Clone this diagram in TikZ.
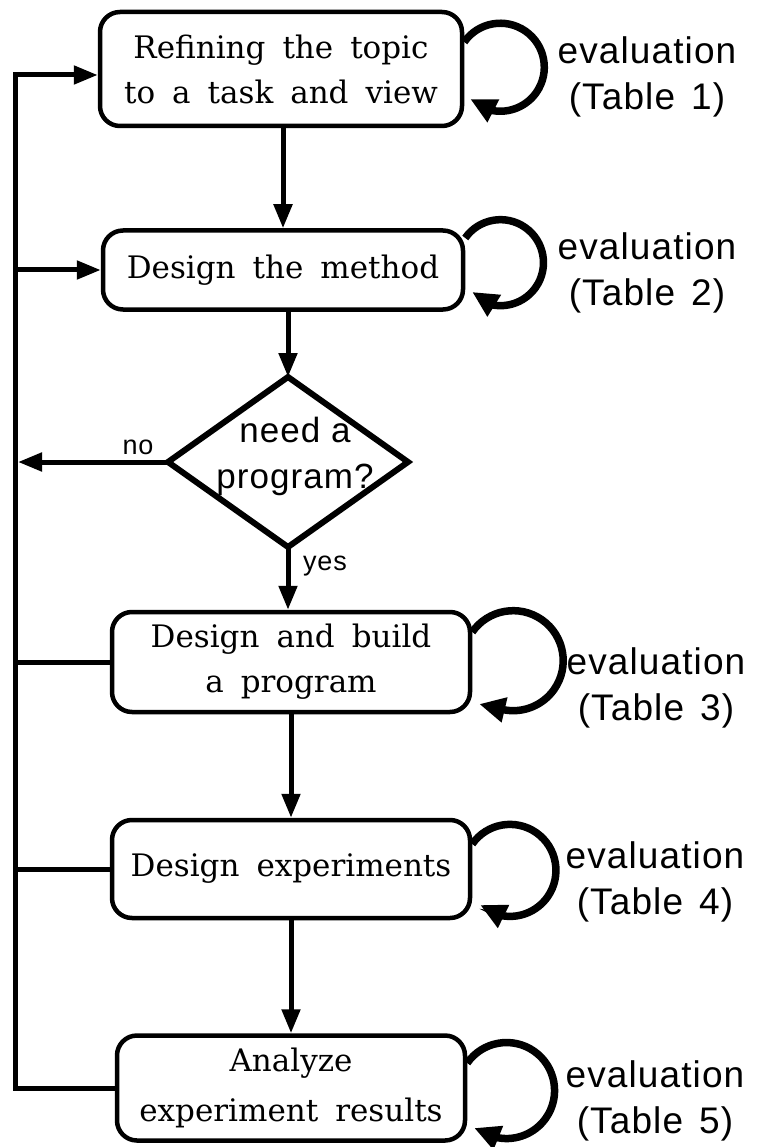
\documentclass[tikz,border=0pt]{standalone}
\usepackage{fontspec}
\setmainfont{DejaVu Serif}
\newfontfamily\sansf{Liberation Sans}[LetterSpace=3.0]
\usetikzlibrary{shapes.geometric,arrows.meta,calc}
\begin{document}
\begin{tikzpicture}[x=1pt,y=-1pt,
  stepbox/.style={draw, line width=4.5pt, rounded corners=20pt, align=center, inner sep=0pt,
    font={\fontsize{31}{45}\selectfont\spaceskip=17pt\relax}},
  conn/.style={line width=5pt},
  tip/.tip={Triangle[length=24pt,width=18pt]},
  looptip/.tip={Triangle[length=26pt,width=24pt]},
  loopline/.style={line width=7.5pt, -{looptip}},
  evaltext/.style={align=center, inner sep=0pt, font={\sansf\fontsize{37}{46}\selectfont\spaceskip=16pt\relax}},
  smalltext/.style={inner sep=0pt, font={\sansf\fontsize{27}{30}\selectfont}},
  decision/.style={draw, diamond, line width=6pt, minimum width=240pt, minimum height=170pt, inner sep=0pt, outer sep=0pt},
  qtext/.style={align=center, inner sep=0pt, font={\sansf\fontsize{35}{46}\selectfont}}
]
\useasboundingbox (0,0) rectangle (760,1147);

% boxes
\node[stepbox, minimum width=362pt, minimum height=114pt] (b1) at (281,69) {Refining the topic\\to a task and view};
\node[stepbox, minimum width=360pt, minimum height=79pt] (b2) at (283,270) {Design the method};
\node[decision] (d) at (288,462) {};
\node[qtext] (dq) at (295,456) {need a\\program?};
\node[stepbox, minimum width=358pt, minimum height=100pt] (b3) at (291,662) {Design and build\\a program};
\node[stepbox, minimum width=358pt, minimum height=98pt] (b4) at (291,869) {Design experiments};
\node[stepbox, minimum width=348pt, minimum height=105pt, font={\fontsize{31}{50}\selectfont\spaceskip=17pt\relax}] (b5) at (291,1088) {Analyze\\experiment results};

% labels
\node[smalltext] (lno) at (138,447) {no};
\node[smalltext] (lyes) at (325,566) {yes};
\node[evaltext] (e1) at (647,77) {evaluation\\(Table 1)};
\node[evaltext] (e2) at (647,273) {evaluation\\(Table 2)};
\node[evaltext] (e3) at (656,688) {evaluation\\(Table 3)};
\node[evaltext] (e4) at (655,882) {evaluation\\(Table 4)};
\node[evaltext] (e5) at (655,1101) {evaluation\\(Table 5)};

% bus
\coordinate (busx) at (15,0);
\coordinate (bustop) at (15,75);
\draw[conn, -{tip}] (b5.west) -- (b5.west -| busx) -- (bustop) -- (bustop -| b1.west);
\draw[conn, -{tip}] (b2.west -| busx) -- (b2.west);
\draw[conn] (b3.west -| busx) -- (b3.west);
\draw[conn] (b4.west -| busx) -- (b4.west);
\draw[conn, -{tip}, shorten >=3pt] (d.west) -- (d.west -| busx);

% main flow
\draw[conn, -{tip}] (b2.north |- b1.south) -- (b2.north);
\draw[conn, -{tip}] (d.north |- b2.south) -- (d.north);
\draw[conn, -{tip}] (d.south) -- (d.south |- b3.north);
\draw[conn, -{tip}] (b3.south) -- (b3.south |- b4.north);
\draw[conn, -{tip}] (b4.south) -- (b4.south |- b5.north);

% evaluation loops
\draw[loopline] ($(b1.east)+(0,-27)$) arc[start angle=215, end angle=460, radius=44] -- ($(b1.east)+(6,30)$);
\draw[loopline] ($(b2.east)+(0,-32)$) arc[start angle=215, end angle=460, radius=43] -- ($(b2.east)+(7,22)$);
\draw[loopline] ($(b3.east)+(0,-30)$) arc[start angle=215, end angle=460, radius=50] -- ($(b3.east)+(7,42)$);
\draw[loopline] ($(b4.east)+(0,-25)$) arc[start angle=215, end angle=460, radius=46] -- ($(b4.east)+(8,36)$);
\draw[loopline] ($(b5.east)+(0,-25)$) arc[start angle=215, end angle=460, radius=48] -- ($(b5.east)+(7,40)$);
\end{tikzpicture}
\end{document}
